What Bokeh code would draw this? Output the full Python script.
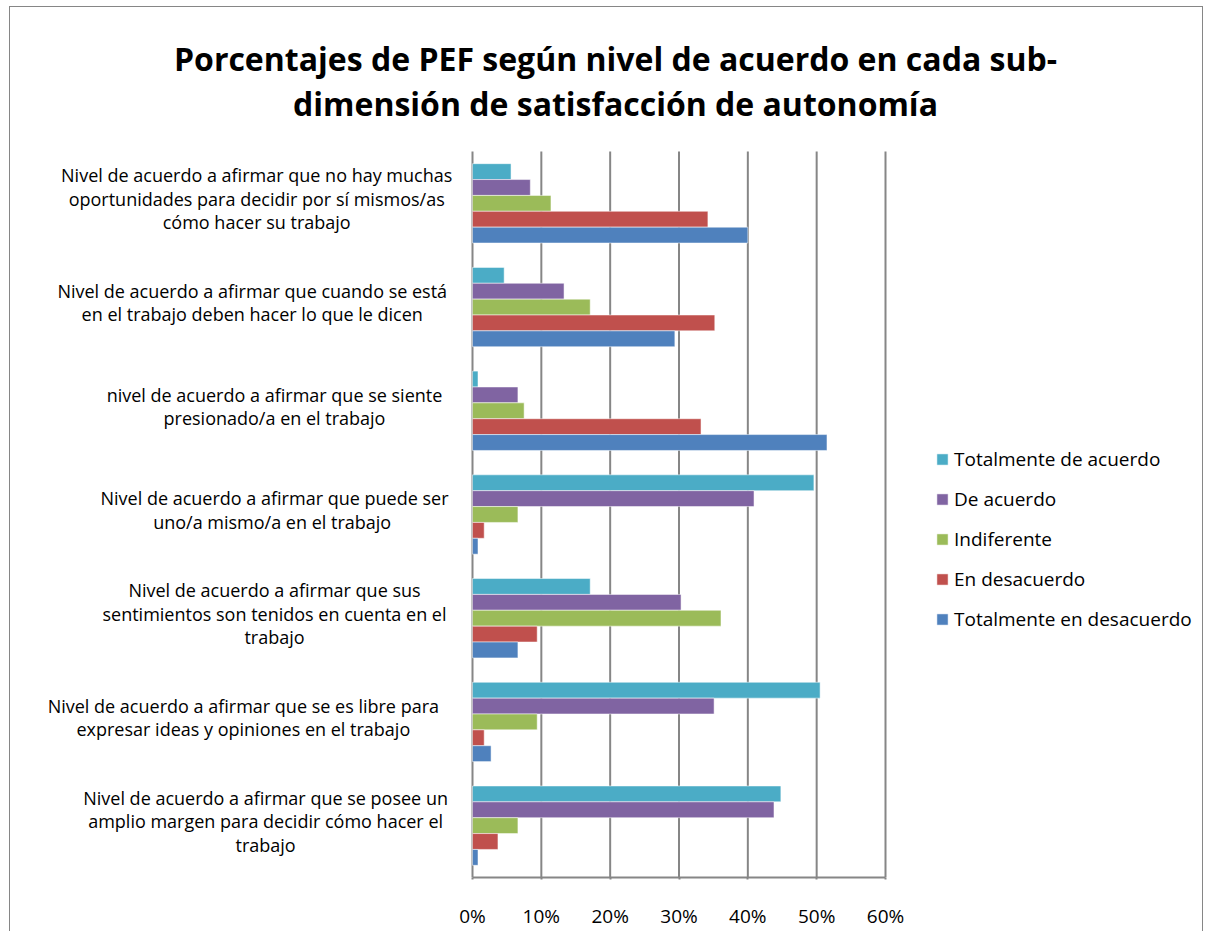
from bokeh.plotting import figure
from bokeh.models import (Range1d, Label, LabelSet, ColumnDataSource, Legend, LegendItem,
                          FixedTicker)
from bokeh.core.properties import value
from bokeh.embed import file_html
from bokeh.resources import INLINE

categories = [
    "Nivel de acuerdo a afirmar que no hay muchas\noportunidades para decidir por sí mismos/as\ncómo hacer su trabajo",
    "Nivel de acuerdo a afirmar que cuando se está\nen el trabajo deben hacer lo que le dicen",
    "nivel de acuerdo a afirmar que se siente\npresionado/a en el trabajo",
    "Nivel de acuerdo a afirmar que puede ser\nuno/a mismo/a  en el trabajo",
    "Nivel de acuerdo a afirmar que sus\nsentimientos son tenidos en cuenta en el\ntrabajo",
    "Nivel de acuerdo a afirmar que se es libre para\nexpresar ideas y opiniones en el trabajo",
    "Nivel de acuerdo a afirmar que se posee un\namplio margen para decidir cómo hacer el\ntrabajo",
]

series_names = ["Totalmente de acuerdo", "De acuerdo", "Indiferente",
                "En desacuerdo", "Totalmente en desacuerdo"]

totalmente_de_acuerdo = [5.6, 4.6, 0.8, 49.6, 17.1, 50.5, 44.8]
de_acuerdo = [8.4, 13.3, 6.6, 40.9, 30.3, 35.1, 43.8]
indiferente = [11.4, 17.1, 7.5, 6.6, 36.1, 9.4, 6.6]
en_desacuerdo = [34.2, 35.2, 33.2, 1.7, 9.4, 1.7, 3.7]
totalmente_en_desacuerdo = [40.0, 29.4, 51.5, 0.8, 6.6, 2.7, 0.8]

x_ticks = [0, 10, 20, 30, 40, 50, 60]
x_tick_labels = ["0%", "10%", "20%", "30%", "40%", "50%", "60%"]

title_lines = ["Porcentajes de PEF según nivel de acuerdo en cada sub-",
               "dimensión de satisfacción de autonomía"]

series_values = [totalmente_de_acuerdo, de_acuerdo, indiferente,
                 en_desacuerdo, totalmente_en_desacuerdo]
colors = ["#4BACC6", "#8064A2", "#9BBB59", "#C0504D", "#4F81BD"]

FONT = "Open Sans"
n = len(categories)

# ---- layout (page pixels) ----
OFF_X, OFF_Y = 10, 7                 # canvas origin on the page (chart border just outside)
AX0_PX, AX60_PX = 472, 885           # 0% and 60% positions
TOP_PX, BOT_PX = 151, 877            # bar area top / axis line
FRAME_W = 1202 - OFF_X
FRAME_H = BOT_PX - OFF_Y
kx = (AX60_PX - AX0_PX) / 60.0
ky = (BOT_PX - TOP_PX) / n

x_range = Range1d(-(AX0_PX - OFF_X) / kx, (FRAME_W - (AX0_PX - OFF_X)) / kx)
y_range = Range1d(n, -(TOP_PX - OFF_Y) / ky)  # flipped: first category at top

p = figure(frame_width=FRAME_W, frame_height=FRAME_H, output_backend="svg",
           toolbar_location=None, x_range=x_range, y_range=y_range,
           y_axis_location=None)
p.min_border_left = 0
p.min_border_right = 0
p.min_border_top = 0
p.min_border_bottom = 54
p.outline_line_color = None
p.background_fill_color = "white"
p.border_fill_color = "white"
p.xgrid.grid_line_color = None
p.ygrid.grid_line_color = None
p.styles = {"margin-left": "9px", "margin-top": "6px",
            "border-top": "1px solid #868686", "border-left": "1px solid #868686",
            "border-right": "1px solid #868686"}

# grid lines restricted to bar area
p.segment(x0=x_ticks, y0=[0] * len(x_ticks), x1=x_ticks, y1=[n] * len(x_ticks),
          line_color="#868686", line_width=2)

bar_h = 0.153
offsets = [-2, -1, 0, 1, 2]
renderers = []
for vals, col, off in zip(series_values, colors, offsets):
    src = ColumnDataSource(dict(y=[i + 0.5 + off * bar_h for i in range(n)], v=vals))
    r = p.hbar(y="y", left=0, right="v", height=bar_h, source=src,
               fill_color=col, line_color="white", line_alpha=0.5, line_width=1)
    renderers.append(r)

# x axis
ax = p.xaxis[0]
ax.bounds = (x_ticks[0], x_ticks[-1])
ax.ticker = FixedTicker(ticks=x_ticks)
ax.major_label_overrides = {t: l for t, l in zip(x_ticks, x_tick_labels)}
ax.major_label_text_font = FONT
ax.major_label_text_font_size = "19px"
ax.major_label_text_color = "black"
ax.axis_line_color = "#868686"
ax.axis_line_width = 2
ax.major_tick_line_color = "#868686"
ax.major_tick_line_width = 2
ax.major_tick_out = 2
ax.major_tick_in = 0
ax.minor_tick_line_color = None
ax.major_label_standoff = 23

# category labels: each line centred, block right edge ~20px left of the axis
char_w = 8.9
line_px = 23.5
shift_px = -4.5
lx, ly, lt = [], [], []
for i, c in enumerate(categories):
    lines = c.split("\n")
    w = max(len(s) for s in lines) * char_w
    cx = -(20 + w / 2) / kx
    m = len(lines)
    for j, s in enumerate(lines):
        lx.append(cx)
        ly.append(i + 0.5 + ((j - (m - 1) / 2) * line_px + shift_px) / ky)
        lt.append(s)
lsrc = ColumnDataSource(dict(x=lx, y=ly, t=lt))
p.add_layout(LabelSet(x="x", y="y", text="t", source=lsrc, text_align="center",
                      text_baseline="middle", text_font=value(FONT), text_font_size="18px",
                      text_color="black"))

# title
title_cx = (615 - AX0_PX) / kx
for line, ypx in zip(title_lines, [58, 103]):
    p.add_layout(Label(x=title_cx, y=-(TOP_PX - ypx) / ky, text=line, text_align="center",
                       text_baseline="middle", text_font=FONT, text_font_style="bold",
                       text_font_size="32px", text_color="black"))

legend = Legend(items=[LegendItem(label=nm, renderers=[r]) for nm, r in zip(series_names, renderers)],
                location=(940 - 5 - OFF_X, 245), orientation="vertical")
legend.label_text_font = FONT
legend.label_text_font_size = "19px"
legend.label_text_color = "black"
legend.glyph_width = 14
legend.glyph_height = 14
legend.label_height = 20
legend.spacing = 14
legend.padding = 5
legend.label_standoff = 5
legend.border_line_color = None
legend.background_fill_alpha = 0
p.add_layout(legend, "center")

open("out.html", "w").write(file_html(p, INLINE))
